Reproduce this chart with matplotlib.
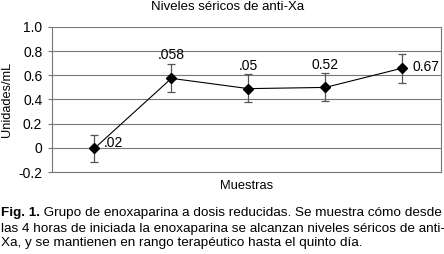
import matplotlib.pyplot as plt

plt.rcParams['font.family'] = ['Liberation Sans', 'DejaVu Sans']

samples = [0, 1, 2, 3, 4]
means = [-0.005, 0.575, 0.49, 0.50, 0.66]
err_low = [0.115, 0.115, 0.11, 0.11, 0.12]
err_high = [0.115, 0.115, 0.12, 0.12, 0.12]
labels = ['.02', '.058', '.05', '0.52', '0.67']
label_pos = ['right', 'above', 'above', 'above', 'right']
yticks = [-0.2, 0, 0.2, 0.4, 0.6, 0.8, 1.0]
ytick_labels = ['-0.2', '0', '0.2', '0.4', '0.6', '0.8', '1.0']

caption_bold = 'Fig. 1.'
caption = (' Grupo de enoxaparina a dosis reducidas. Se muestra cómo desde\n'
           'las 4 horas de iniciada la enoxaparina se alcanzan niveles séricos de anti-\n'
           'Xa, y se mantienen en rango terapéutico hasta el quinto día.')

fig = plt.figure(figsize=(4.44, 2.54), dpi=100)
ax = fig.add_axes([52 / 444, 1 - 172 / 254, 389 / 444, 145 / 254])

ax.errorbar(samples, means, yerr=[err_low, err_high], color='black', lw=0.8,
            marker='D', ms=5.5, ecolor='#555555', elinewidth=0.9, capsize=3, capthick=0.9,
            zorder=3)

for x, y, t, p in zip(samples, means, labels, label_pos):
    if p == 'right':
        dy = 4 if x == 0 else 1
        ax.annotate(t, (x, y), xytext=(7, dy), textcoords='offset points',
                    ha='left', va='center', fontsize=10)
    else:
        ax.annotate(t, (x, y + 0.12), xytext=(0, 1), textcoords='offset points',
                    ha='center', va='bottom', fontsize=10)

ax.set_xlim(-0.55, 4.5)
ax.set_ylim(-0.2, 1.0)
ax.set_yticks(yticks)
ax.set_yticklabels(ytick_labels, fontsize=10)
ax.set_xticks([])
ax.yaxis.grid(True, color='#777777', lw=0.8)
ax.set_axisbelow(True)
ax.spines['top'].set_visible(False)
for s in ['left', 'right', 'bottom']:
    ax.spines[s].set_color('#777777')
    ax.spines[s].set_linewidth(0.8)
ax.tick_params(axis='y', length=3, color='#777777', pad=4)

ax.set_ylabel('Unidades/mL', fontsize=9.2, labelpad=4)
ax.set_xlabel('Muestras', fontsize=9.3, labelpad=6)
fig.text(228 / 444, 1 - 7 / 254, 'Niveles séricos de anti-Xa', fontsize=9.5,
         ha='center', va='center')

fs = 9.7
t1 = fig.text(0.003, 1 - 213 / 254, caption_bold, fontsize=fs, fontweight='bold',
              va='center', ha='left')
fig.canvas.draw()
bb = t1.get_window_extent()
fig.text(bb.x1 / 444, 1 - 213 / 254, caption.split('\n')[0], fontsize=fs,
         va='center', ha='left')
fig.text(0.003, 1 - 236 / 254, '\n'.join(caption.split('\n')[1:]), fontsize=fs,
         va='center', ha='left', linespacing=1.15)

fig.savefig('out.png', dpi=100)
